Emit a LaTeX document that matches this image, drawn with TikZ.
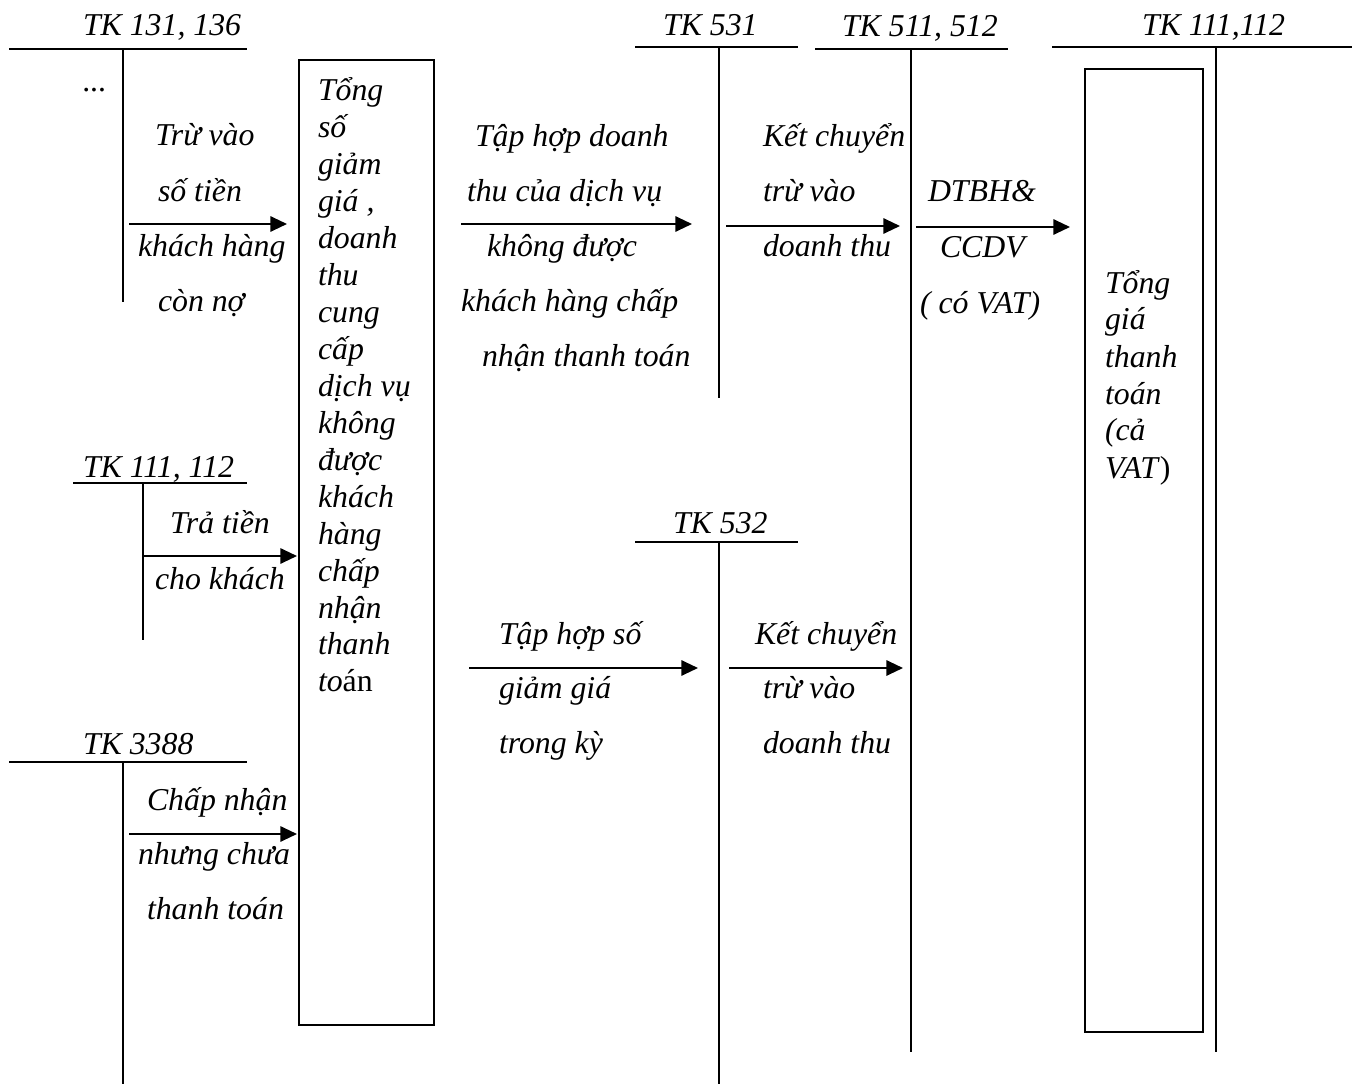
\documentclass[tikz,border=0pt]{standalone}
\usepackage{fontspec}
\setmainfont{Liberation Serif}
\usetikzlibrary{arrows.meta}

% a stack of lines with a fixed baseline distance; its baseline is the first line's
\newcommand\stacked[2]{\vtop{\baselineskip=#1\relax\lineskiplimit=-100pt\relax#2}}
\newcommand\rowtext[1]{\hbox{#1}}

\begin{document}
\begin{tikzpicture}[x=0.75pt,y=-0.75pt,
  txt/.style={anchor=base west, inner sep=0pt, outer sep=0pt, yshift=-1.5pt,
              font=\fontsize{23.85}{27.7}\selectfont\itshape},
  rule/.style={line width=1.5pt},
  frame/.style={draw, line width=1.5pt, anchor=north west, inner sep=0pt},
  flow/.style={line width=1.5pt, -{Triangle[length=12.5pt,width=11.5pt]}},
  ]
\useasboundingbox (0,0) rectangle (1356,1084);

% ---------- T-accounts ----------
% TK 131, 136
\coordinate (a131l) at (9,49);   \coordinate (a131r) at (247,49);
\coordinate (a131t) at (123,49); \coordinate (a131b) at (123,302);
\draw[rule] (a131l) -- (a131r);
\draw[rule] (a131t) -- (a131b);
% TK 111, 112 (left)
\coordinate (a111l) at (73,483);  \coordinate (a111r) at (247,483);
\coordinate (a111t) at (143,483); \coordinate (a111b) at (143,640);
\draw[rule] (a111l) -- (a111r);
\draw[rule] (a111t) -- (a111b);
% TK 3388
\coordinate (a3388l) at (9,762);   \coordinate (a3388r) at (247,762);
\coordinate (a3388t) at (123,762); \coordinate (a3388b) at (123,1084);
\draw[rule] (a3388l) -- (a3388r);
\draw[rule] (a3388t) -- (a3388b);
% TK 531
\coordinate (a531l) at (635,47);  \coordinate (a531r) at (798,47);
\coordinate (a531t) at (719,47);  \coordinate (a531b) at (719,398);
\draw[rule] (a531l) -- (a531r);
\draw[rule] (a531t) -- (a531b);
% TK 532
\coordinate (a532l) at (635,542); \coordinate (a532r) at (798,542);
\coordinate (a532t) at (719,542); \coordinate (a532b) at (719,1084);
\draw[rule] (a532l) -- (a532r);
\draw[rule] (a532t) -- (a532b);
% TK 511, 512
\coordinate (a511l) at (815,49);  \coordinate (a511r) at (1008,49);
\coordinate (a511t) at (911,49);  \coordinate (a511b) at (911,1052);
\draw[rule] (a511l) -- (a511r);
\draw[rule] (a511t) -- (a511b);
% TK 111,112 (right)
\coordinate (b111l) at (1052,47);  \coordinate (b111r) at (1352,47);
\coordinate (b111t) at (1216,47);  \coordinate (b111b) at (1216,1052);
\draw[rule] (b111l) -- (b111r);
\draw[rule] (b111t) -- (b111b);

% ---------- account titles ----------
\node[txt] (h131)  at (83,34)   {TK 131, 136};
\node[txt] (h111)  at (83,475)  {TK 111, 112};
\node[txt] (h3388) at (83,752)  {TK 3388};
\node[txt] (h531)  at (663,34)  {TK 531};
\node[txt] (h532)  at (673,531) {TK 532};
\node[txt] (h511)  at (842,35)  {TK 511, 512};
\node[txt] (hb111) at (1142,34) {TK 111,112};
\node[txt] (dots)  at (83,90)   {...};

% ---------- boxes ----------
\node[frame, minimum width=101.25pt, minimum height=723.75pt] (box1) at (298,59) {};
\node[frame, minimum width=88.5pt,  minimum height=722.25pt] (box2) at (1084,68) {};

\node[txt] (box1txt) at (318,99) {\stacked{27.7pt}{%
  \rowtext{Tổng}\rowtext{số}\rowtext{giảm}\rowtext{giá ,}\rowtext{doanh}%
  \rowtext{thu}\rowtext{cung}\rowtext{cấp}\rowtext{dịch vụ}\rowtext{không}%
  \rowtext{được}\rowtext{khách}\rowtext{hàng}\rowtext{chấp}\rowtext{nhận}%
  \rowtext{thanh}\rowtext{to\textup{án}}}};

\node[txt] (box2txt) at (1105,291) {\stacked{27.75pt}{%
  \rowtext{Tổng}\rowtext{giá}\rowtext{thanh}\rowtext{toán}\rowtext{(cả}%
  \rowtext{VAT\textup{)}}}};

% ---------- flows ----------
\coordinate (f1s) at (129,224); \coordinate (f1e) at (287,224);
\coordinate (f2s) at (143,556); \coordinate (f2e) at (297,556);
\coordinate (f3s) at (129,834); \coordinate (f3e) at (297,834);
\coordinate (f4s) at (461,224); \coordinate (f4e) at (692,224);
\coordinate (f5s) at (726,226); \coordinate (f5e) at (900,226);
\coordinate (f6s) at (916,227); \coordinate (f6e) at (1070,227);
\coordinate (f7s) at (469,668); \coordinate (f7e) at (698,668);
\coordinate (f8s) at (729,668); \coordinate (f8e) at (903,668);
\draw[flow] (f1s) -- (f1e);
\draw[flow] (f2s) -- (f2e);
\draw[flow] (f3s) -- (f3e);
\draw[flow] (f4s) -- (f4e);
\draw[flow] (f5s) -- (f5e);
\draw[flow] (f6s) -- (f6e);
\draw[flow] (f7s) -- (f7e);
\draw[flow] (f8s) -- (f8e);

% ---------- flow labels ----------
\node[txt] (l1) at (138,144) {\stacked{41.5pt}{%
  \rowtext{\kern12.75pt Trừ vào}\rowtext{\kern15pt số tiền}%
  \rowtext{khách hàng}\rowtext{\kern15pt còn nợ}}};

\node[txt] (l2) at (155,531) {\stacked{42pt}{%
  \rowtext{\kern11.25pt Trả tiền}\rowtext{cho khách}}};

\node[txt] (l3) at (138,808) {\stacked{40.9pt}{%
  \rowtext{\kern6.75pt Chấp nhận}\rowtext{nhưng chưa}\rowtext{\kern6.75pt thanh toán}}};

\node[txt] (l4) at (461,145) {\stacked{41.25pt}{%
  \rowtext{\kern10.5pt Tập hợp doanh}\rowtext{\kern4.5pt thu của dịch vụ}%
  \rowtext{\kern19.5pt không được}\rowtext{khách hàng chấp}%
  \rowtext{\kern15.75pt nhận thanh toán}}};

\node[txt] (l5) at (763,145) {\stacked{41.25pt}{%
  \rowtext{Kết chuyển}\rowtext{trừ vào}\rowtext{doanh thu}}};

\node[txt] (l6) at (920,200) {\stacked{42pt}{%
  \rowtext{\kern6pt DTBH\&}\rowtext{\kern15pt CCDV}\rowtext{( có VAT)}}};

\node[txt] (l7) at (499,642) {\stacked{40.9pt}{%
  \rowtext{Tập hợp số}\rowtext{giảm giá}\rowtext{trong kỳ}}};

\node[txt] (l8) at (755,642) {\stacked{40.9pt}{%
  \rowtext{Kết chuyển}\rowtext{\kern6pt trừ vào}\rowtext{\kern6pt doanh thu}}};

\end{tikzpicture}
\end{document}
